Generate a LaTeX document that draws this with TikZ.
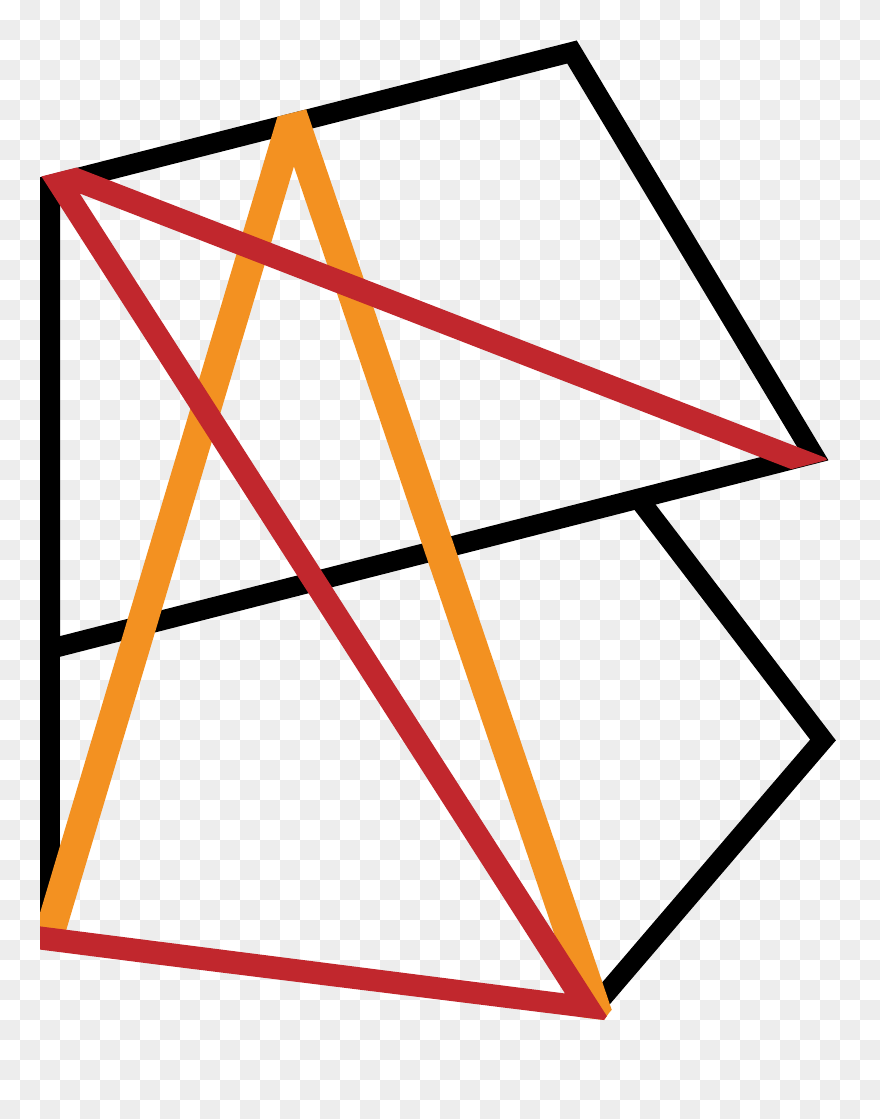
\documentclass[tikz,border=0pt]{standalone}
\definecolor{chk}{HTML}{EDEDED}
\definecolor{orng}{HTML}{F39121}
\definecolor{rd}{HTML}{C1272D}
\begin{document}
\begin{tikzpicture}[x=1pt,y=-1pt,
  blk/.style={draw=black,line width=20pt,line join=miter,miter limit=10},
  orangeband/.style={draw=orng,line width=30pt,line join=miter,miter limit=10},
  redband/.style={draw=rd,line width=23pt,line join=miter,miter limit=10}]
\useasboundingbox (0,0) rectangle (880,1119);
% transparent-style checkerboard background
\fill[white] (0,0) rectangle (880,1119);
\foreach \i in {0,2,...,42}{
  \foreach \j in {1,3,...,55}{
    \fill[chk] (\i*20,\j*20) rectangle ++(20,20);
    \fill[chk] (\i*20+20,\j*20-20) rectangle ++(20,20);
  }
}
% vertices
\coordinate (tl) at (50,185);
\coordinate (tr) at (572,52);
\coordinate (rv) at (813,454);
\coordinate (ml) at (50,649);
\coordinate (bl) at (50,938);
\coordinate (pj) at (638,498);
\coordinate (pr) at (823,740);
\coordinate (pb) at (596,1005);
% black frame
\draw[blk] (tl) -- (tr) -- (rv) -- (ml) -- cycle;
\draw[blk] (tl) -- (bl);
\draw[blk] (pj) -- (pr) -- (pb);
% coloured bands, trimmed to the outline of the frame
\coordinate (oa) at (47,942);
\coordinate (apex) at (293,117);
\coordinate (ob) at (600,1022);
\coordinate (ra) at (850,479.6);
\coordinate (rtl) at (51,170);
\coordinate (rb) at (588,1008);
\coordinate (rl) at (30,936.7);
\begin{scope}
  \clip (40,176.8) -- (576,41) -- (827,460) -- (655,504) -- (839,741)
        -- (609,1013) -- (604,1020) -- (40,950) -- cycle;
  \draw[orangeband] (oa) -- (apex) -- (ob);
  \draw[redband] (ra) -- (rtl) -- (rb) -- (rl);
\end{scope}
\end{tikzpicture}
\end{document}
